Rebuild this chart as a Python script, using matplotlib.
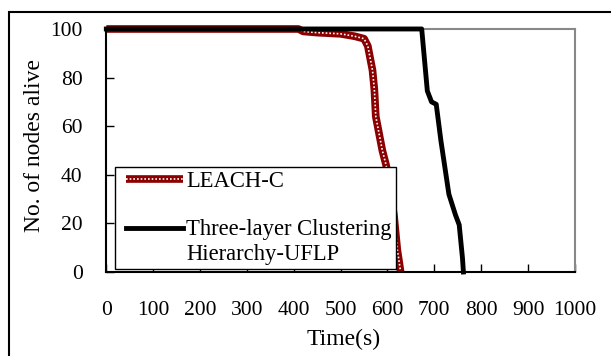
import numpy as np
from matplotlib import pyplot as plt
from matplotlib.patches import Rectangle
from matplotlib.legend_handler import HandlerLine2D

# LEACH-C curve
leach_t = [0, 410, 420, 450, 500, 530, 550, 558, 563, 568, 572, 575, 582, 589, 597, 605, 614, 621, 625, 628]
leach_n = [100, 100, 99, 98.5, 98, 97, 96, 93, 88, 83, 75, 64, 57, 50, 44, 35, 23, 9, 4, 0]

# Three-layer Clustering Hierarchy-UFLP
uflp_t = [0, 673, 685, 694, 704, 714, 731, 745, 753, 760, 762]
uflp_n = [100, 100, 74.5, 70, 69, 54, 32, 23.5, 19.4, 5.7, 0]

xticks = [0, 100, 200, 300, 400, 500, 600, 700, 800, 900, 1000]
yticks = [0, 20, 40, 60, 80, 100]


class ShiftLine(HandlerLine2D):
    # move the handle right (dx) and up (dy), in fontsize units
    def __init__(self, dx=0.0, dy=0.0, **kw):
        super().__init__(**kw)
        self.dx = dx
        self.dy = dy

    def create_artists(self, legend, orig_handle, xdescent, ydescent, width, height, fontsize, trans):
        return super().create_artists(legend, orig_handle, xdescent - self.dx * fontsize,
                                      ydescent - 2 * self.dy * fontsize,
                                      width, height, fontsize, trans)


plt.rcParams['font.family'] = ['Liberation Serif', 'DejaVu Serif']

fig = plt.figure(figsize=(6.11, 3.56), dpi=100)
ax = fig.add_axes([0.174, 0.236, 0.767, 0.6826])

red = '#8b0000'
l1, = ax.plot(leach_t, leach_n, color=red, lw=5.5, solid_capstyle='butt', clip_on=False, zorder=2)
l1b, = ax.plot(leach_t, leach_n, color='white', lw=1.2, ls=(0, (1, 1.2)), clip_on=False, zorder=2.1)
l2, = ax.plot(uflp_t, uflp_n, color='black', lw=3.5, clip_on=False, zorder=3)

ax.set_xlim(0, 1000)
ax.set_ylim(0, 100)
ax.set_xticks(xticks)
ax.set_yticks(yticks)
ax.tick_params(direction='in', length=6, width=1, labelsize=15.5)
ax.tick_params(axis='x', pad=21)
ax.tick_params(axis='y', pad=17)

ax.spines['left'].set_color('black')
ax.spines['bottom'].set_color('black')
ax.spines['top'].set_color('#888888')
ax.spines['right'].set_color('#888888')
for s in ax.spines.values():
    s.set_linewidth(1.5)

ax.set_xlabel("Time(s)", fontsize=17)
ax.set_ylabel("No. of nodes alive", fontsize=17)
ax.xaxis.set_label_coords(0.507, -0.235)
ax.yaxis.set_label_coords(-0.13, 0.52)

leg = ax.legend([(l1, l1b), l2], ["LEACH-C", "Three-layer Clustering\nHierarchy-UFLP"],
                handler_map={l1: ShiftLine(0.3), l1b: ShiftLine(0.3), l2: ShiftLine(0.3, 0.6)},
                loc='lower left', bbox_to_anchor=(0.0185, 0.012), borderaxespad=0,
                fontsize=16.3, handlelength=2.5, handletextpad=0.45, borderpad=0.2,
                labelspacing=1.2, fancybox=False, framealpha=1, edgecolor='black')
leg.get_frame().set_linewidth(1.0)
leg.set_zorder(5)

# outer frame of the figure
fig.patches.append(Rectangle((9 / 611, -0.1), 1.2, 1 - 12 / 356 + 0.1, transform=fig.transFigure,
                             fill=False, edgecolor='black', lw=1.5, clip_on=False))

plt.savefig("out.png", dpi=100)
